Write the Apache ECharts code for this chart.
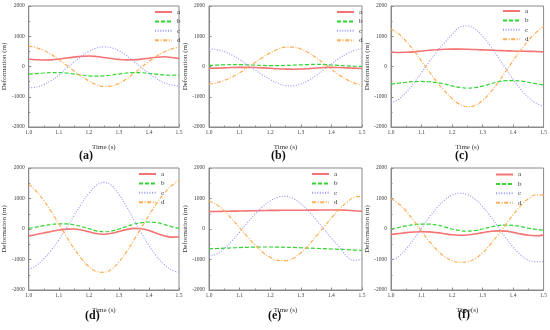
<!DOCTYPE html>
<html><head><meta charset="utf-8">
<script src="https://cdn.jsdelivr.net/npm/echarts@6/dist/echarts.min.js"></script>
<style>html,body{margin:0;padding:0;background:#fff}#c{width:550px;height:330px}</style>
</head><body><div id="c"></div>
<script>
const times = [1.0,1.025,1.05,1.075,1.1,1.125,1.15,1.175,1.2,1.225,1.25,1.275,1.3,1.325,1.35,1.375,1.4,1.425,1.45,1.475,1.5];
const seriesNames = ['a','b','c','d'];
const panelLabels = ['(a)','(b)','(c)','(d)','(e)','(f)'];
const xTitles = ['Time (s)','Time (s)','Time (s)','Time (s)','Time (s)','Time(s)'];
const yTitle = 'Deformation (m)';

// panel (a)
const pA_a = [240,225,215,220,245,280,310,335,345,330,300,265,235,220,225,245,275,305,320,300,270];
const pA_b = [-250,-235,-215,-200,-200,-215,-245,-280,-310,-320,-310,-285,-250,-215,-200,-205,-225,-255,-280,-290,-285];
const pA_c = [-700,-680,-600,-460,-290,-60,140,330,500,610,650,620,520,360,170,-30,-230,-400,-530,-610,-650];
const pA_d = [680,620,530,400,230,50,-140,-320,-480,-600,-660,-650,-560,-410,-230,-30,170,340,480,580,640];
// panel (b)
const pB_a = [-60,-55,-45,-35,-30,-30,-35,-45,-60,-75,-85,-90,-85,-70,-50,-35,-30,-35,-45,-55,-65];
const pB_b = [35,45,55,60,60,55,45,35,30,30,35,45,55,65,70,65,50,35,20,10,5];
const pB_c = [580,560,490,380,230,60,-110,-280,-430,-550,-630,-640,-580,-460,-300,-110,80,270,420,530,600];
const pB_d = [-580,-540,-460,-350,-210,-40,130,300,450,570,640,640,580,460,290,100,-90,-280,-430,-550,-620];
// panel (c)
const pC_a = [470,465,470,485,510,535,555,570,575,575,570,560,550,540,530,520,510,505,500,495,485];
const pC_b = [-580,-550,-520,-500,-495,-505,-530,-580,-640,-690,-715,-700,-650,-580,-510,-470,-465,-480,-520,-570,-610];
const pC_c = [-1200,-1080,-850,-550,-200,150,480,780,1050,1300,1340,1240,1000,700,320,-60,-420,-750,-1020,-1210,-1320];
const pC_d = [1240,1080,830,520,180,-170,-500,-800,-1060,-1250,-1330,-1290,-1120,-860,-540,-180,190,540,860,1120,1320];
// panel (d)
const pD_a = [-225,-180,-130,-80,-35,-5,0,-30,-90,-150,-170,-140,-80,-20,20,10,-50,-140,-220,-265,-260];
const pD_b = [20,60,110,150,170,170,140,80,10,-60,-90,-70,0,80,160,210,230,210,150,80,20];
const pD_c = [-1330,-1200,-980,-700,-360,30,430,820,1170,1430,1530,1430,1140,740,300,-140,-540,-890,-1160,-1340,-1420];
const pD_d = [1470,1240,930,570,170,-240,-630,-970,-1230,-1390,-1420,-1320,-1080,-750,-360,50,450,830,1160,1420,1580];
// panel (e)
const pE_a = [570,575,580,585,590,595,600,605,610,612,615,615,615,618,620,622,625,625,615,600,580];
const pE_b = [-650,-640,-630,-620,-610,-600,-595,-590,-590,-595,-600,-605,-615,-625,-635,-645,-655,-665,-675,-690,-700];
const pE_c = [-890,-820,-640,-390,-100,200,480,730,920,1040,1070,1000,830,590,300,0,-300,-580,-900,-1030,-980];
const pE_d = [920,800,590,330,40,-250,-520,-760,-930,-1030,-1040,-960,-780,-530,-240,60,360,640,870,1040,1070];
// panel (f)
const pF_a = [-180,-150,-120,-100,-90,-95,-120,-155,-190,-205,-195,-165,-120,-80,-60,-70,-110,-160,-205,-220,-200];
const pF_b = [0,50,100,140,160,160,130,70,0,-50,-70,-50,0,60,110,130,120,80,30,-10,-40];
const pF_c = [-1020,-900,-650,-330,30,380,690,940,1110,1170,1130,980,740,430,80,-270,-590,-850,-1020,-1070,-1060];
const pF_d = [1000,830,580,270,-70,-400,-680,-900,-1040,-1090,-1080,-980,-780,-510,-200,130,460,760,990,1120,1110];

const yTicks = {min:-2000, max:2000, interval:1000};
const xTicks = {min:1.0, max:1.5, interval:0.1};

const panels = [
  [pA_a,pA_b,pA_c,pA_d],[pB_a,pB_b,pB_c,pB_d],[pC_a,pC_b,pC_c,pC_d],
  [pD_a,pD_b,pD_c,pD_d],[pE_a,pE_b,pE_c,pE_d],[pF_a,pF_b,pF_c,pF_d]
];

// layout (px)
const grids = [
  {left:27, top:6, width:152, height:121},
  {left:209, top:6, width:153, height:121},
  {left:391, top:6, width:153, height:121},
  {left:27, top:168, width:152, height:122},
  {left:209, top:168, width:153, height:122},
  {left:391, top:168, width:153, height:122}
];
const legendPos = [[154,8.5],[336,8.5],[502,7.5],[138,170.5],[311,170.5],[495,171]];
const labelPos = [[88,157],[280,157],[464,157],[94,317],[277,317],[467,316]];

const styles = [
  {color:'#f77272', width:1.6, type:'solid'},
  {color:'#2fd62f', width:1.2, type:[4,2]},
  {color:'#9a9cff', width:1.2, type:[1,1.6]},
  {color:'#ffae55', width:1.2, type:[4,1.6,1,1.6]}
];
const axisColor = '#8a8a8a';
const serif = 'Liberation Serif';

const option = {
  animation:false,
  backgroundColor:'#fff',
  grid: grids.map(g => Object.assign({show:true, borderColor:axisColor, borderWidth:1, backgroundColor:'transparent'}, g)),
  xAxis: grids.map((g,i) => ({
    type:'value', gridIndex:i, min:xTicks.min, max:xTicks.max, interval:xTicks.interval,
    name:xTitles[i], nameLocation:'middle', nameGap:17,
    nameTextStyle:{fontFamily:serif, fontSize:7, color:'#333'},
    axisLine:{onZero:false, lineStyle:{color:axisColor, width:1}},
    axisTick:{inside:true, length:2.5, lineStyle:{color:axisColor}},
    minorTick:{show:true, splitNumber:2, length:1.5, lineStyle:{color:axisColor}},
    splitLine:{show:false},
    axisLabel:{fontFamily:serif, fontSize:5.5, color:'#444', margin:3, formatter:v=>v.toFixed(1)}
  })),
  yAxis: grids.map((g,i) => ({
    type:'value', gridIndex:i, min:yTicks.min, max:yTicks.max, interval:yTicks.interval,
    name:yTitle, nameLocation:'middle', nameGap:19,
    nameTextStyle:{fontFamily:serif, fontSize:7, color:'#333'},
    axisLine:{show:true, onZero:false, lineStyle:{color:axisColor, width:1}},
    axisTick:{show:true, inside:true, length:2.5, lineStyle:{color:axisColor}},
    minorTick:{show:true, splitNumber:2, length:1.5, lineStyle:{color:axisColor}},
    splitLine:{show:false},
    axisLabel:{fontFamily:serif, fontSize:5.5, color:'#444', margin:4, formatter:v=>String(v)}
  })),
  legend: legendPos.map(p => ({
    data:seriesNames, orient:'vertical', left:p[0], top:p[1],
    itemWidth:17, itemHeight:7, itemGap:2.4, padding:0,
    itemStyle:{opacity:0},
    textStyle:{fontFamily:serif, fontSize:7, color:'#333', lineHeight:7}
  })),
  graphic: labelPos.map((p,i) => ({
    type:'text', left:p[0]-9, top:p[1]-7,
    style:{text:panelLabels[i], font:'bold 12px "Liberation Serif"', fill:'#111'}
  })),
  series: []
};

panels.forEach((pd,i) => {
  pd.forEach((vals,k) => {
    option.series.push({
      type:'line', name:seriesNames[k], xAxisIndex:i, yAxisIndex:i,
      data: times.map((t,j) => [t, vals[j]]),
      smooth:0.4, symbol:'none',
      lineStyle:{color:styles[k].color, width:styles[k].width, type:styles[k].type},
      itemStyle:{color:styles[k].color}
    });
  });
});

const chart = echarts.init(document.getElementById('c'), null, {renderer:'canvas'});
chart.setOption(option);
</script>
</body></html>
